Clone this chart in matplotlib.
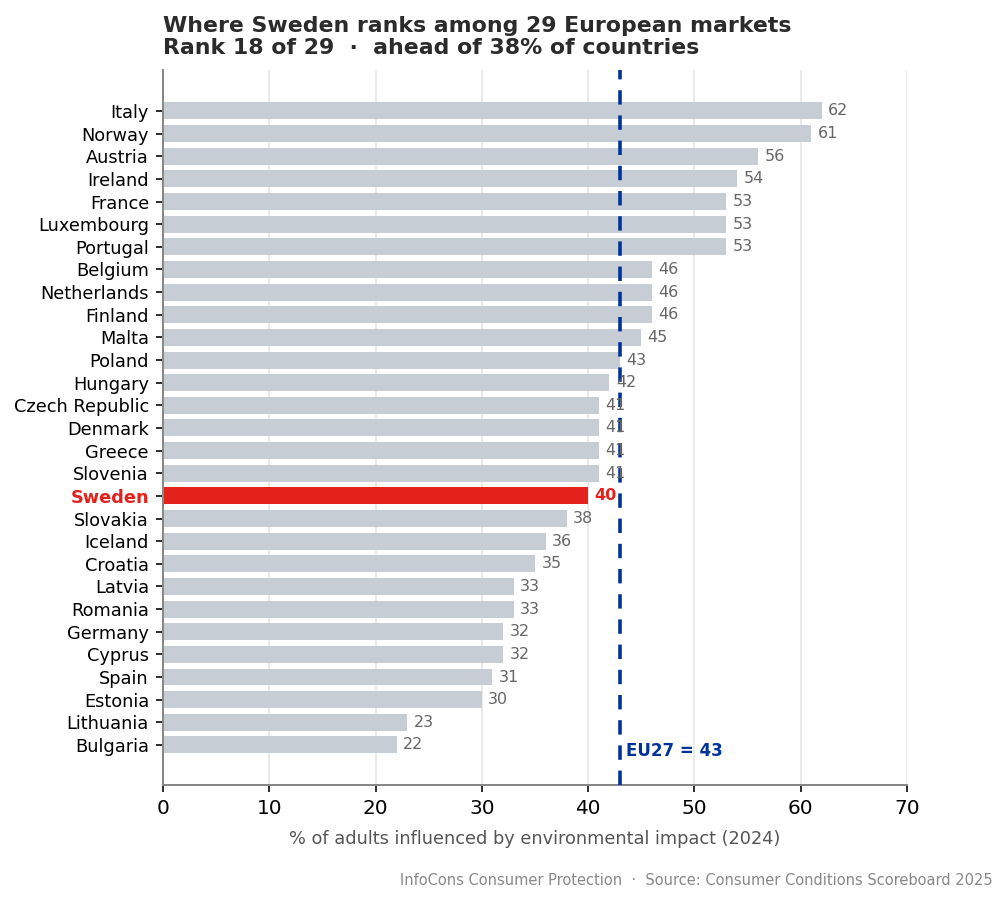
import matplotlib
matplotlib.use("Agg")
import matplotlib.pyplot as plt

countries = ["Italy", "Norway", "Austria", "Ireland", "France", "Luxembourg", "Portugal",
             "Belgium", "Netherlands", "Finland", "Malta", "Poland", "Hungary",
             "Czech Republic", "Denmark", "Greece", "Slovenia", "Sweden", "Slovakia",
             "Iceland", "Croatia", "Latvia", "Romania", "Germany", "Cyprus", "Spain",
             "Estonia", "Lithuania", "Bulgaria"]
values = [62, 61, 56, 54, 53, 53, 53, 46, 46, 46, 45, 43, 42, 41, 41, 41, 41, 40, 38,
          36, 35, 33, 33, 32, 32, 31, 30, 23, 22]
eu27 = 43
highlight = "Sweden"
xticks = [0, 10, 20, 30, 40, 50, 60, 70]

GREY = "#c7cdd5"
RED = "#e3221b"
BLUE = "#003399"

fig = plt.figure(figsize=(7.0, 6.264), dpi=144)
ax = fig.add_axes([163/1008, 1-785/902, (907-163)/1008, (785-70)/902])

n = len(countries)
ypos = list(range(n - 1, -1, -1))
colors = [RED if c == highlight else GREY for c in countries]
ax.barh(ypos, values, height=0.75, color=colors, zorder=2)

for y, v, c in zip(ypos, values, countries):
    if c == highlight:
        ax.text(v + 0.6, y, f"{v}", va="center", ha="left", fontsize=8,
                color=RED, fontweight="bold", zorder=4)
    else:
        ax.text(v + 0.6, y, f"{v}", va="center", ha="left", fontsize=8,
                color="#666666", zorder=4)

ax.axvline(eu27, color=BLUE, linestyle=(0, (4, 3)), linewidth=1.8, zorder=3)
ax.text(eu27 + 0.6, -0.25, f"EU27 = {eu27}", color=BLUE, fontsize=8.3,
        fontweight="bold", va="center", ha="left", zorder=4)

ax.set_yticks(ypos)
ax.set_yticklabels(countries, fontsize=8.9)
for lbl in ax.get_yticklabels():
    if lbl.get_text() == highlight:
        lbl.set_color(RED)
        lbl.set_fontweight("bold")

ax.set_xlim(0, 70)
ax.set_ylim(-1.77, n - 1 + 1.81)
ax.set_xticks(xticks)
ax.tick_params(axis="x", labelsize=10)
ax.set_xlabel("% of adults influenced by environmental impact (2024)", fontsize=8.85,
              color="#555555", labelpad=6)

ax.grid(axis="x", color="#e6e6e6", linewidth=0.8, zorder=0)
ax.set_axisbelow(True)
for s in ["top", "right"]:
    ax.spines[s].set_visible(False)
for s in ["left", "bottom"]:
    ax.spines[s].set_color("#888888")
    ax.spines[s].set_linewidth(1.0)

ax.set_title("Where Sweden ranks among 29 European markets\nRank 18 of 29  ·  ahead of 38% of countries",
             loc="left", fontsize=11, fontweight="bold", color="#2b2b2b", pad=8,
             linespacing=1.1)

fig.text(993/1008, 1-880/902,
         "InfoCons Consumer Protection  ·  Source: Consumer Conditions Scoreboard 2025",
         ha="right", va="center", fontsize=7.3, color="#888888")

fig.savefig("out.png", dpi=144)
